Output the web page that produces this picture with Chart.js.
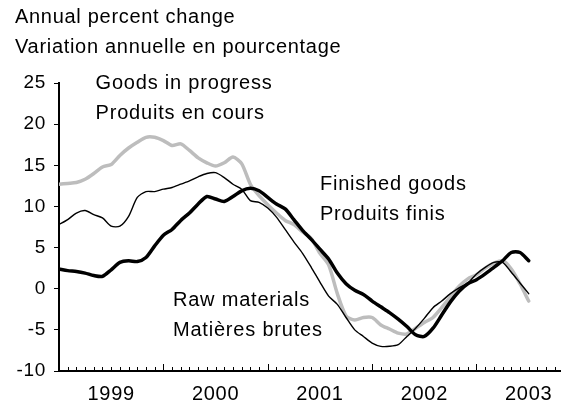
<!DOCTYPE html>
<html>
<head>
<meta charset="utf-8">
<script src="https://cdn.jsdelivr.net/npm/chart.js@4/dist/chart.umd.min.js"></script>
<style>
    html, body { margin: 0; padding: 0; background: #fff; }
    #wrap { position: relative; width: 561px; height: 404px; }
    #grafico { position: absolute; left: 0; top: 0; }
    .titre { position: absolute; left: 15px; font-family: "Liberation Sans", Arial, sans-serif; font-size: 20px; letter-spacing: 0.7px; line-height: 23px; color: #000; white-space: nowrap; }
</style>
</head>
<body>
<div id="wrap">
    <canvas id="grafico" width="561" height="404"></canvas>
    <div class="titre" style="top: 5px;">Annual percent change</div>
    <div class="titre" style="top: 35px;">Variation annuelle en pourcentage</div>
</div>
<script>
// monthly values, January 1999 onward
const goodsInProgress = [
    12.7, 12.8, 12.9, 13.3, 14.0, 14.8, 15.1, 16.2, 17.1, 17.8, 18.4, 18.4,
    18.0, 17.4, 17.6, 16.8, 15.9, 15.3, 14.9, 15.3, 16.0, 15.2, 12.7, 11.3,
    10.2, 9.2, 8.3, 7.8, 6.9, 6.1, 4.3, 2.9, -0.6, -3.3, -3.8, -3.5,
    -3.5, -4.4, -4.9, -5.4, -5.5, -4.8, -4.1, -3.5, -2.3, -1.0, 0.3, 1.2,
    1.7, 2.5, 3.1, 3.4, 2.4, 0.6, -1.5
];
const rawMaterials = [
    7.8, 8.4, 9.2, 9.5, 9.0, 8.6, 7.6, 7.6, 8.8, 11.1, 11.8, 11.8,
    12.1, 12.3, 12.7, 13.1, 13.6, 14.0, 14.1, 13.5, 12.7, 12.1, 10.7, 10.5,
    9.8, 8.7, 7.2, 5.7, 4.3, 2.6, 0.8, -0.9, -1.9, -3.5, -5.0, -5.8,
    -6.6, -7.0, -7.0, -6.8, -5.8, -4.8, -3.6, -2.3, -1.5, -0.6, 0.1, 0.7,
    1.8, 2.6, 3.2, 3.2, 2.0, 0.7, -0.6
];
const finishedGoods = [
    2.4, 2.2, 2.1, 1.9, 1.6, 1.5, 2.3, 3.2, 3.4, 3.3, 3.8, 5.2,
    6.5, 7.2, 8.3, 9.2, 10.3, 11.2, 10.9, 10.6, 11.2, 11.9, 12.2, 11.9,
    11.1, 10.3, 9.7, 8.4, 7.1, 6.0, 4.8, 3.6, 1.9, 0.6, -0.2, -0.7,
    -1.5, -2.2, -2.9, -3.7, -4.6, -5.6, -5.8, -4.8, -3.2, -1.6, -0.3, 0.6,
    1.1, 1.8, 2.6, 3.4, 4.4, 4.4, 3.4
];
const yearLabels = ["1999", "2000", "2001", "2002", "2003"];
const yTicks = [-10, -5, 0, 5, 10, 15, 20, 25];

const fonte = "'Liberation Sans', Arial, sans-serif";

function pontos(serie) {
    return serie.map((v, i) => ({ x: i, y: v }));
}

// slightly wider text, like the original
const espacamento = {
    id: "espacamento",
    beforeDraw(chart) {
        chart.ctx.letterSpacing = "0.7px";
    }
};

// small ticks pointing up every month, long ones at January
const ticksMensais = {
    id: "ticksMensais",
    afterDraw(chart) {
        const ctx = chart.ctx;
        const x = chart.scales.x;
        const base = chart.chartArea.bottom;
        ctx.save();
        ctx.strokeStyle = "#000";
        ctx.lineWidth = 1;
        for (let m = 1; m <= Math.floor(x.max); m++) {
            const px = Math.round(x.getPixelForValue(m)) + 0.5;
            const alto = m % 12 === 0 ? 7 : 4;
            ctx.beginPath();
            ctx.moveTo(px, base);
            ctx.lineTo(px, base - alto);
            ctx.stroke();
        }
        ctx.restore();
    }
};

// series names written next to the lines
const rotulos = [
    { linhas: ["Goods in progress", "Produits en cours"], m: 4.2, v: 24.9 },
    { linhas: ["Finished goods", "Produits finis"], m: 30.0, v: 12.7 },
    { linhas: ["Raw materials", "Matières brutes"], m: 13.1, v: -1.4 }
];

const textos = {
    id: "textos",
    afterDraw(chart) {
        const ctx = chart.ctx;
        const sx = chart.scales.x, sy = chart.scales.y;
        ctx.save();
        ctx.fillStyle = "#000";
        ctx.font = "20px " + fonte;
        ctx.letterSpacing = "0.8px";
        ctx.textBaseline = "middle";
        rotulos.forEach(r => {
            const px = sx.getPixelForValue(r.m);
            const py = sy.getPixelForValue(r.v);
            r.linhas.forEach((t, i) => ctx.fillText(t, px, py + i * 30));
        });
        ctx.restore();
    }
};

new Chart(document.getElementById("grafico"), {
    type: "line",
    data: {
        datasets: [
            { label: "Finished goods", data: pontos(finishedGoods), borderColor: "#000", borderWidth: 3.5 },
            { label: "Raw materials", data: pontos(rawMaterials), borderColor: "#000", borderWidth: 1.4 },
            { label: "Goods in progress", data: pontos(goodsInProgress), borderColor: "#bdbdbd", borderWidth: 3.5 }
        ]
    },
    options: {
        responsive: false,
        animation: false,
        layout: { padding: { top: 83, right: 1, bottom: 0, left: 0 } },
        elements: {
            point: { radius: 0 },
            line: { tension: 0.25, borderCapStyle: "round", borderJoinStyle: "round" }
        },
        plugins: { legend: { display: false }, tooltip: { enabled: false } },
        scales: {
            x: {
                type: "linear",
                min: 0,
                max: 57.6,
                afterBuildTicks: axis => {
                    axis.ticks = yearLabels.map((_, i) => ({ value: 12 * i + 6 }));
                },
                afterFit: axis => { axis.height = 33; },
                ticks: {
                    autoSkip: false,
                    maxRotation: 0,
                    color: "#000",
                    padding: 3,
                    font: { family: fonte, size: 20 },
                    callback: (v, i) => yearLabels[i]
                },
                grid: { display: false },
                border: { display: true, color: "#000", width: 2 }
            },
            y: {
                min: -10,
                max: 25,
                afterBuildTicks: axis => {
                    axis.ticks = yTicks.map(v => ({ value: v }));
                },
                afterFit: axis => { axis.width = 59; },
                ticks: {
                    color: "#000",
                    padding: 8,
                    font: { family: fonte, size: 19 }
                },
                grid: { drawOnChartArea: false, drawTicks: true, tickLength: 5, color: "#000", lineWidth: 1 },
                border: { display: true, color: "#000", width: 2 }
            }
        }
    },
    plugins: [espacamento, ticksMensais, textos]
});
</script>
</body>
</html>
